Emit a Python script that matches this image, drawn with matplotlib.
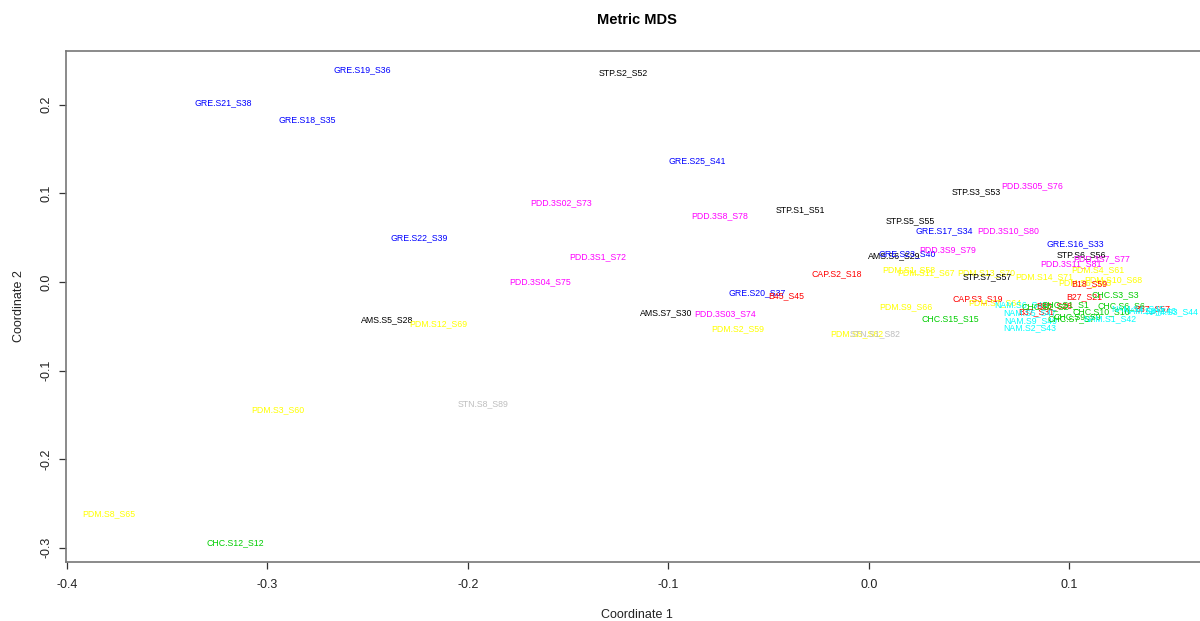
import matplotlib
matplotlib.use("Agg")
import matplotlib.pyplot as plt

# ---- data (label, coordinate 1, coordinate 2) ----
labels = [
    "GRE.S19_S36", "STP.S2_S52", "GRE.S21_S38", "GRE.S18_S35", "GRE.S25_S41",
    "PDD.3S05_S76", "STP.S3_S53", "PDD.3S02_S73", "STP.S1_S51", "PDD.3S8_S78",
    "STP.S5_S55", "GRE.S17_S34", "PDD.3S10_S80", "GRE.S22_S39", "GRE.S16_S33",
    "AMS.S6_S29", "GRE.S23_S40", "PDD.3S9_S79", "STP.S6_S56", "PDD.3S7_S77",
    "PDD.3S11_S81", "PDM.S4_S61", "PDM.S14_S71", "PDM.S10_S68", "PDM.S6_S63",
    "B18_S59", "CAP.S2_S18", "PDM.S1_S58", "PDM.S11_S67", "PDM.S13_S70",
    "STP.S7_S57", "GRE.S20_S37", "B45_S45", "PDM.S3_S60", "STN.S8_S89",
    "AMS.S5_S28", "PDM.S12_S69", "AMS.S7_S30", "PDD.3S03_S74", "PDM.S2_S59",
    "PDM.S5_S62", "STN.S1_S82", "PDM.S9_S66", "CAP.S3_S19", "PDM.S7_S64",
    "NAM.S6_S48", "CHC.S15_S15", "B27_S21", "CHC.S3_S3", "B35_S28",
    "CHC.S1_S1", "CHC.S6_S6", "B57_S57", "NAM.S3_S44", "NAM.S8_S46",
    "CHC.S10_S10", "CHC.S9_S9", "B37_S31", "NAM.S5_S47", "NAM.S9_S49",
    "NAM.S2_S43", "CHC.S7_S7", "NAM.S1_S42", "CHC.S12_S12", "PDM.S8_S65",
    "PDD.3S1_S72", "PDD.3S04_S75", "CHC.S2_S2", "NAM.S4_S45",
]
coord1 = [
    -0.2529, -0.1227, -0.3222, -0.2803, -0.0858,
    0.0813, 0.0534, -0.1536, -0.0344, -0.0743,
    0.0204, 0.0374, 0.0693, -0.2244, 0.1027,
    0.0125, 0.0189, 0.0394, 0.1062, 0.1162,
    0.1007, 0.1142, 0.0873, 0.1217, 0.1077,
    0.1097, -0.0160, 0.0199, 0.0284, 0.0584,
    0.0589, -0.0559, -0.0414, -0.2948, -0.1925,
    -0.2404, -0.2150, -0.1012, -0.0718, -0.0653,
    -0.0060, 0.0030, 0.0185, 0.0544, 0.0628,
    0.0758, 0.0404, 0.1072, 0.1227, 0.0923,
    0.0978, 0.1257, 0.1412, 0.1511, 0.1402,
    0.1157, 0.1037, 0.0833, 0.0803, 0.0808,
    0.0803, 0.1007, 0.1202, -0.3162, -0.3790,
    -0.1352, -0.1641, 0.0878, 0.1342,
]
coord2 = [
    0.2393, 0.2359, 0.2020, 0.1828, 0.1366,
    0.1084, 0.1016, 0.0892, 0.0813, 0.0745,
    0.0688, 0.0576, 0.0576, 0.0497, 0.0429,
    0.0293, 0.0316, 0.0361, 0.0305, 0.0260,
    0.0203, 0.0135, 0.0056, 0.0023, -0.0010,
    -0.0023, 0.0090, 0.0135, 0.0102, 0.0102,
    0.0056, -0.0124, -0.0158, -0.1445, -0.1377,
    -0.0429, -0.0474, -0.0350, -0.0361, -0.0530,
    -0.0587, -0.0587, -0.0282, -0.0192, -0.0237,
    -0.0260, -0.0418, -0.0170, -0.0147, -0.0271,
    -0.0260, -0.0271, -0.0305, -0.0339, -0.0327,
    -0.0339, -0.0395, -0.0339, -0.0350, -0.0440,
    -0.0520, -0.0418, -0.0418, -0.2946, -0.2619,
    0.0282, 0.0000, -0.0282, -0.0305,
]

group_colors = {
    "AMS": "black", "STP": "black", "CAP": "red", "B": "red",
    "CHC": "#00CD00", "GRE": "blue", "NAM": "cyan", "PDD": "magenta",
    "PDM": "yellow", "STN": "#BEBEBE",
}

x_ticks = [-0.4, -0.3, -0.2, -0.1, 0.0, 0.1]
x_tick_labels = ["-0.4", "-0.3", "-0.2", "-0.1", "0.0", "0.1"]
y_ticks = [-0.3, -0.2, -0.1, 0.0, 0.1, 0.2]
y_tick_labels = ["-0.3", "-0.2", "-0.1", "0.0", "0.1", "0.2"]


def color_of(lab):
    if lab.startswith("B") and lab[1].isdigit():
        return group_colors["B"]
    return group_colors[lab[:3]]


plt.rcParams["font.family"] = ["Liberation Sans", "DejaVu Sans"]
W, H = 1200, 621
fig = plt.figure(figsize=(W / 100, H / 100), dpi=100)
left, right, top, bottom = 66, 1208, 51, 562
ax = fig.add_axes([left / W, (H - bottom) / H, (right - left) / W, (bottom - top) / H])
ax.set_xlim(-0.4005, 0.1691)
ax.set_ylim(-0.3160, 0.2607)

for lab, xv, yv in zip(labels, coord1, coord2):
    ax.text(xv, yv, lab, color=color_of(lab), fontsize=6.3,
            ha="center", va="center", clip_on=True)

for s in ax.spines.values():
    s.set_color("#777777")
    s.set_linewidth(1.2)

ax.set_xticks(x_ticks)
ax.set_xticklabels(x_tick_labels)
ax.set_yticks(y_ticks)
ax.set_yticklabels(y_tick_labels, rotation=90, va="center")
ax.tick_params(axis="both", direction="out", length=5, width=0.9,
               color="#333333", labelsize=9, labelcolor="#222222")
ax.tick_params(axis="x", pad=7.5)
ax.tick_params(axis="y", pad=4.5)

ax.set_xlabel("Coordinate 1", fontsize=9, color="#222222")
ax.set_ylabel("Coordinate 2", fontsize=9, color="#222222")
ax.xaxis.set_label_coords(0.5, (bottom - 609) / (bottom - top))
ax.yaxis.set_label_coords((25 - left) / (right - left), 0.5)
fig.text((left + right) / 2 / W, 1 - 20 / H, "Metric MDS", fontsize=10.5,
         fontweight="bold", ha="center", va="center")

fig.savefig("out.png", dpi=100)
